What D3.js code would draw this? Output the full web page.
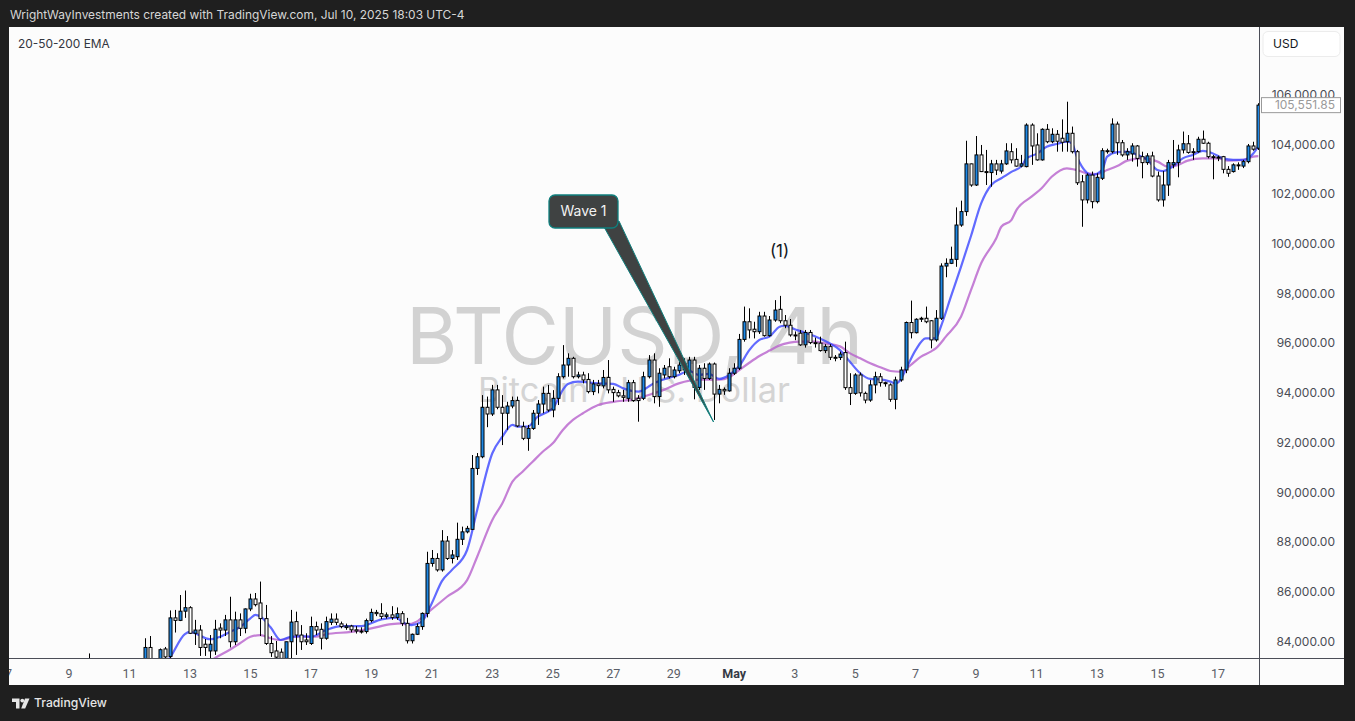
<!DOCTYPE html>
<html><head><meta charset="utf-8">
<script src="https://cdn.jsdelivr.net/npm/d3@7"></script>
<style>html,body{margin:0;padding:0;background:#1f1f1f;overflow:hidden}</style>
</head><body>
<svg id="c" width="1355" height="721"></svg>
<script>
// ---------------- DATA ----------------
const headerText = "WrightWayInvestments created with TradingView.com, Jul 10, 2025 18:03 UTC-4";
const indicatorLabel = "20-50-200 EMA";
const symbolName = "BTCUSD, 4h";
const symbolDesc = "Bitcoin / U.S. Dollar";
const currencyLabel = "USD";
const lastPrice = 105551.85;
const firstBarTime = "2025-04-09T16:00:00Z";
const barHours = 4;

const open = [82000,82700,82100,81600,81900,81500,80800,81200,82000,82500,82300,82900,83740,83200,83250,83680,83380,84930,84830,85200,
85340,84310,84440,83870,83600,83600,84520,84440,84850,83970,84850,84510,85290,85690,85530,84900,83900,83600,83550,83300,
83970,84780,84240,84040,83900,84580,84470,84110,84750,84880,84690,84540,84600,84450,84400,84380,84820,85150,85100,84990,
85050,84950,85100,84710,84010,84270,84580,85110,87120,87320,86860,88020,87320,87390,88090,88390,88490,90940,91410,93400,
93130,94100,93400,93160,93450,93670,92620,92150,92550,93160,93530,93960,93290,93760,94630,95100,95370,94630,94700,94520,
94030,94340,94260,94600,94120,93990,93860,93760,94390,93760,93760,94630,95300,93830,94700,95030,94630,94870,94900,94770,
95300,94200,94970,94560,95140,93930,94120,94060,94770,94970,96130,96840,96540,96440,97070,96280,96910,97340,96880,96700,
96310,96380,95910,96410,96000,95980,95680,95840,95410,95400,95600,94190,93960,94700,93960,93690,94300,94630,94390,94300,
93720,94500,94900,96810,96400,96940,96980,96880,96110,96980,99080,99190,99350,100730,101270,103190,102340,103550,102880,102840,
103190,102900,103190,103680,103370,103100,103080,104750,103950,103350,104580,104080,104380,104220,104080,104420,103680,102470,101740,102740,
101670,102610,103720,103680,104790,104040,103550,103590,103910,103480,103240,103510,102700,101740,102340,103150,103240,103750,104000,103650,
103680,104180,104020,103480,103460,103480,102970,102880,103150,103100,103280,103910,103820];
const high = [83500,83200,82600,82200,82500,81900,81400,82300,82800,83000,83100,84110,84200,83300,83700,83760,85230,85250,85850,86030,
85400,84850,84640,84080,84240,84850,84710,85050,85780,85180,85110,85310,85900,85930,86390,85450,84200,84000,83700,83970,
85250,85180,84640,84310,84980,84780,84710,84980,85110,85110,84780,84700,84650,84600,84550,84900,85300,85250,85520,85150,
85400,85350,85200,84930,84300,84710,85150,87590,87660,87530,88460,88220,87660,88760,88600,88630,91480,91560,93890,93830,
94300,94300,93890,93620,93830,93830,92820,92690,93290,93690,94230,94300,94090,94770,95900,95570,95430,94830,94830,94770,
94500,94500,94900,95300,94230,94100,94100,94500,94500,93890,94830,95500,95570,94970,95100,95370,95030,95300,95370,95430,
95430,95100,95170,95200,95200,94300,94200,94970,95170,96350,97450,97380,96840,97240,97240,97070,97710,97880,97110,96950,
96450,96510,96510,96510,96200,96240,95940,95940,95500,95640,96040,94770,94770,94800,94030,94500,94830,94770,94430,94360,
94630,95030,96850,97690,96980,97040,97450,96910,97310,99190,99390,99860,101440,101710,104120,103200,104310,103950,103750,103350,
103350,103350,104020,104020,103820,103550,104820,104820,104420,104620,104790,104620,104550,104980,105690,104690,103750,102740,102810,102880,
102810,103820,103800,105020,104890,104150,103820,104020,103950,103680,103620,103680,102880,102900,103350,104150,103960,104490,104350,103820,
104280,104530,104080,103550,103520,103510,103100,103210,103250,103350,103990,104080,105630];
const low = [81500,81800,81200,80900,81300,80400,79800,80900,81600,82000,82100,82700,82900,82900,83100,83300,83300,84340,84800,84930,
84280,83840,83400,83400,83300,83440,84110,84200,83740,83840,84200,84310,85200,85390,84200,83840,83360,83200,83100,83200,
83300,83440,83640,83840,83840,84240,83660,84050,84640,84640,84510,84450,84350,84300,84300,84300,84750,85000,84880,84900,
84850,84850,84600,83900,83900,84240,84450,84950,86990,86790,86790,87260,87120,87260,87860,88330,88460,90680,91350,92600,
93050,93320,91880,92490,93360,92600,92080,91650,92490,92690,93160,93220,93000,93490,94560,94630,94560,94560,94360,93960,
93890,93960,94160,93960,93620,93800,93620,93620,93620,92820,93690,94560,93560,93420,94560,94560,94560,94770,94700,94700,
93720,94100,94100,94500,92890,93560,93900,94030,94700,94900,96040,96170,96170,96350,96240,96240,96840,96780,96580,96240,
96100,95870,95800,95940,95800,95640,95580,95300,95250,95300,94100,93490,93900,93830,93560,93620,93960,94230,94230,93620,
93320,94430,94770,96170,96370,96830,96780,95770,96040,96910,98630,99160,99050,100660,101100,102270,102300,102860,102340,102270,
102740,102800,103150,103210,103080,103050,103050,103150,103320,103320,104020,104020,103680,103680,103680,103610,102340,100660,101600,101400,
101600,102540,103600,103610,103550,103480,103350,103280,103080,102610,103150,102650,101670,101470,101900,103010,102650,103610,103600,103350,
103640,103990,103410,102570,103300,102810,102670,102840,102950,103020,103210,103720,103750];
const close = [82700,82100,81600,81900,81500,80800,81200,82000,82500,82300,82900,83740,83200,83250,83650,83360,84930,84830,85200,85340,
84310,84440,83740,83740,83870,84470,84440,84850,83970,84850,84510,85290,85690,85460,84900,83900,83530,83350,83300,83970,
84760,84240,83970,83970,84580,84440,84110,84780,84880,84750,84580,84600,84450,84400,84380,84820,85150,85100,84990,85050,
84950,85100,84710,84010,84270,84580,85110,87120,87320,86860,88020,87320,87460,88090,88390,88530,90940,91410,93400,93130,
94100,93400,93160,93450,93670,92650,92150,92550,93160,93530,93960,93290,93760,94630,95100,95370,94630,94700,94500,94030,
94340,94270,94600,94100,93990,93860,93800,94390,93670,93670,94630,95300,93830,94770,94970,94630,94900,95100,95170,95300,
94200,94970,94560,95140,93930,94120,94060,94770,94970,96130,96840,96510,96440,97070,96280,96910,97310,96880,96700,96310,
96300,95910,96410,96000,95980,95680,95840,95410,95400,95540,94190,93960,94700,93980,93690,94300,94630,94390,94350,93720,
94500,94900,96810,96400,96940,96980,96840,96110,96980,99080,99190,99350,100730,101270,103190,102340,103550,102880,102860,103190,
102940,103190,103710,103350,103100,103190,104750,103910,103350,104580,104080,104380,104100,104060,104420,103680,102430,101740,102740,101670,
102650,103720,103700,104790,104040,103550,103680,103910,103410,103240,103510,102700,101740,102340,103240,103240,103750,104000,103650,103680,
104180,104020,103480,103460,103450,102970,102810,103150,103120,103280,103910,103780,105551.85];

const ema20Bar = [10,13,16,19,20,24,26,28,30,32,33,34,36,38,40,42,44,47,50,54,58,61,62,64,66,68,70,72,75,77,80,82,84,85,87,89,91,92,94,95,97,101,104,106,109,111,112,114,117,119,121,123,125,127,129,131,133,135,137,138,140,142,145,147,149,151,153,155,157,159,160,161,162,164,166,168,169,171,173,175,177,179,181,183,185,186,188,190,192,194,195,196,197,199,201,202,204,206,208,210,212,213,215,217,219,221,223,225,227,229,231,232];
const ema20 = [81900,82600,83320,84280,84370,84070,84170,84370,84570,84910,85050,84980,84550,84040,84170,84200,84170,84440,84600,84600,84870,84940,84780,84640,84780,85520,86410,86860,87660,89270,91550,92220,92690,92620,92620,93020,93220,93360,94100,94340,94430,94360,94340,94160,94030,94230,94360,94520,94700,94870,94700,94740,94540,94700,95060,95700,96110,96240,96640,96680,96540,96400,96170,95970,95700,95220,94770,94540,94520,94430,94360,94500,94900,95700,96170,96170,96640,97850,99050,100300,101600,102340,102610,102870,103100,103410,103590,103880,103990,104080,104020,103480,103080,102740,102940,103480,103660,103680,103550,103350,102940,102900,103080,103410,103550,103710,103610,103410,103350,103350,103610,103900];
const ema50Bar = [18,22,25,28,30,32,34,36,38,41,45,47,52,56,60,62,63,65,67,71,75,77,80,82,84,86,88,90,92,94,96,98,101,104,108,112,114,117,121,125,127,129,131,133,135,137,139,141,144,146,149,151,153,155,157,159,161,163,165,167,168,170,173,175,177,180,181,183,184,187,189,191,194,196,198,200,202,204,206,209,212,214,216,218,221,224,226,229,231,232];
const ema50 = [82500,82900,83320,83660,83920,84170,84240,84110,84040,84170,84170,84270,84370,84510,84680,84710,84670,84780,85110,85780,86450,87390,88870,89540,90410,90810,91210,91610,91950,92490,92890,93160,93490,93620,93720,93960,94100,94360,94510,94510,94610,94900,95190,95460,95680,95890,96000,96040,96040,95970,95850,95570,95370,95170,95010,94860,94830,95100,95430,95640,95770,96240,97040,98120,99190,100200,100660,100930,101330,101870,102210,102670,103010,102940,102810,102780,102940,103100,103320,103410,103280,103080,103140,103320,103410,103410,103320,103350,103480,103500];

const priceTicks = [84000,86000,88000,90000,92000,94000,96000,98000,100000,102000,104000,106000];
const dateTickStart = "2025-04-07T00:00:00Z";
const dateTickLabels = ["7","9","11","13","15","17","19","21","23","25","27","29","May","3","5","7","9","11","13","15","17"];

const calloutText = "Wave 1";
const calloutBar = 124;            // bar the pointer tip sits on
const calloutPrice = 92890;        // price at the pointer tip
const waveLabel = "(1)";
const waveLabelBar = 137;
const waveLabelPrice = 99640;

// ---------------- LAYOUT ----------------
const W = 1355, H = 721;
const pane = {x: 9, y: 27, r: 1344, b: 685};
const plot = {x: 9, y: 27, r: 1259, b: 658};
const svg = d3.select('#c');

svg.append('rect').attr('width', W).attr('height', H).attr('fill', '#1f1f1f');
svg.append('rect').attr('x', pane.x).attr('y', pane.y).attr('width', pane.r - pane.x).attr('height', pane.b - pane.y).attr('fill', '#fcfcfc');

const t0 = new Date(firstBarTime);
const barTime = i => new Date(t0.getTime() + i * barHours * 3600 * 1000);

const x = d3.scaleUtc()
  .domain([new Date("2025-04-07T00:00:00Z"), new Date("2025-05-17T00:00:00Z")])
  .range([8.5, 1218]);
const y = d3.scaleLinear().domain([84000, 106000]).range([641, 94]);

const defs = svg.append('defs');
defs.append('clipPath').attr('id', 'plotClip').append('rect')
  .attr('x', plot.x).attr('y', plot.y).attr('width', plot.r - plot.x).attr('height', plot.b - plot.y);
defs.append('clipPath').attr('id', 'timeClip').append('rect')
  .attr('x', plot.x).attr('y', plot.b).attr('width', plot.r - plot.x).attr('height', pane.b - plot.b);

function fitWidth(sel, w) {
  const n = sel.node(); const fs = +sel.attr('font-size');
  const l = n.getComputedTextLength();
  if (l > 0) sel.attr('font-size', fs * w / l);
}

// header
svg.append('text').attr('x', 10).attr('y', 16).attr('dominant-baseline', 'middle')
  .attr('font-family', 'Inter, "Noto Sans", sans-serif').attr('font-size', 13).attr('fill', '#d6d6d6')
  .text(headerText).call(fitWidth, 455);

const plotG = svg.append('g').attr('clip-path', 'url(#plotClip)');

// watermark
const cxMid = (plot.x + plot.r) / 2;
plotG.append('text').attr('x', cxMid + 0.5).attr('y', 364).attr('text-anchor', 'middle')
  .attr('font-family', 'Inter, "Noto Sans", sans-serif').attr('font-size', 82).attr('fill', '#d2d2d2')
  .text(symbolName).call(fitWidth, 457);
plotG.append('text').attr('x', cxMid).attr('y', 402).attr('text-anchor', 'middle')
  .attr('font-family', 'Inter, "Noto Sans", sans-serif').attr('font-size', 36).attr('fill', '#d4d4d4')
  .text(symbolDesc).call(fitWidth, 312);

// EMAs
const line = d3.line().curve(d3.curveMonotoneX);
plotG.append('path')
  .attr('d', line(ema50Bar.map((b, k) => [x(barTime(b)), y(ema50[k])])))
  .attr('fill', 'none').attr('stroke', '#b660cc').attr('stroke-opacity', 0.8).attr('stroke-width', 2.2);
plotG.append('path')
  .attr('d', line(ema20Bar.map((b, k) => [x(barTime(b)), y(ema20[k])])))
  .attr('fill', 'none').attr('stroke', '#3a45ff').attr('stroke-opacity', 0.8).attr('stroke-width', 2.2);

// candles
const bars = d3.range(open.length).map(i => ({i, t: barTime(i), o: open[i], h: high[i], l: low[i], c: close[i]}));
const cg = plotG.append('g');
cg.selectAll('line.w').data(bars).join('line')
  .attr('x1', d => Math.round(x(d.t)) + 0.5).attr('x2', d => Math.round(x(d.t)) + 0.5)
  .attr('y1', d => y(d.h)).attr('y2', d => y(d.l))
  .attr('stroke', '#000').attr('stroke-width', 1);
cg.selectAll('rect.b').data(bars).join('rect')
  .attr('x', d => Math.round(x(d.t)) - 1)
  .attr('width', 3)
  .attr('y', d => y(Math.max(d.o, d.c)))
  .attr('height', d => Math.max(1, Math.abs(y(d.o) - y(d.c))))
  .attr('fill', d => d.c >= d.o ? '#1e88e5' : '#ffffff')
  .attr('stroke', '#000').attr('stroke-width', 1);

// callout "Wave 1"
const tipX = x(barTime(calloutBar)) - 0.5, tipY = y(calloutPrice) + 2;
plotG.append('path')
  .attr('d', `M604,227 L619,221 L${tipX},${tipY} Z`)
  .attr('fill', '#3f4242').attr('stroke', '#0f7f7d').attr('stroke-width', 1).attr('stroke-linejoin', 'round');
plotG.append('rect').attr('x', 549).attr('y', 195).attr('width', 69).attr('height', 33).attr('rx', 6)
  .attr('fill', '#3f4242').attr('stroke', '#0f7f7d').attr('stroke-width', 1.3);
plotG.append('text').attr('x', 583.5).attr('y', 212).attr('text-anchor', 'middle').attr('dominant-baseline', 'middle')
  .attr('font-family', 'Inter, "Noto Sans", sans-serif').attr('font-size', 14).attr('fill', '#f2f2f2').text(calloutText);

plotG.append('text').attr('x', x(barTime(waveLabelBar))).attr('y', y(waveLabelPrice)).attr('text-anchor', 'middle')
  .attr('dominant-baseline', 'middle')
  .attr('font-family', 'Inter, "Noto Sans", sans-serif').attr('font-size', 17).attr('fill', '#131722').text(waveLabel);

// indicator label
svg.append('text').attr('x', 18).attr('y', 45).attr('dominant-baseline', 'middle')
  .attr('font-family', 'Inter, "Noto Sans", sans-serif').attr('font-size', 13).attr('fill', '#333640')
  .text(indicatorLabel).call(fitWidth, 92);

// separators
svg.append('line').attr('x1', plot.r + 0.5).attr('x2', plot.r + 0.5).attr('y1', pane.y).attr('y2', pane.b)
  .attr('stroke', '#4b4e57').attr('stroke-width', 1);
svg.append('line').attr('x1', pane.x).attr('x2', pane.r).attr('y1', plot.b + 0.5).attr('y2', plot.b + 0.5)
  .attr('stroke', '#4b4e57').attr('stroke-width', 1);

// price axis
const fmt = d3.format(',.2f');
const yAxisG = svg.append('g').attr('transform', `translate(1335,0)`);
yAxisG.selectAll('text').data(priceTicks).join('text')
  .attr('x', 0).attr('y', d => y(d) + 1.5).attr('text-anchor', 'end').attr('dominant-baseline', 'middle')
  .attr('font-family', 'Inter, "Noto Sans", sans-serif').attr('font-size', 12).attr('fill', '#4a4c55')
  .text(d => fmt(d));

// currency box
svg.append('rect').attr('x', 1263).attr('y', 31.5).attr('width', 77).attr('height', 25).attr('rx', 5)
  .attr('fill', '#ffffff').attr('stroke', '#ececec');
svg.append('text').attr('x', 1273).attr('y', 44.5).attr('dominant-baseline', 'middle')
  .attr('font-family', 'Inter, "Noto Sans", sans-serif').attr('font-size', 12).attr('fill', '#131722').text(currencyLabel);

// last price label
const lpY = y(lastPrice);
svg.append('rect').attr('x', 1261.5).attr('y', lpY - 7.5).attr('width', 79).attr('height', 15)
  .attr('fill', '#ffffff').attr('stroke', '#9a9a9a').attr('stroke-width', 1);
svg.append('text').attr('x', 1335).attr('y', lpY + 1).attr('text-anchor', 'end').attr('dominant-baseline', 'middle')
  .attr('font-family', 'Inter, "Noto Sans", sans-serif').attr('font-size', 12).attr('fill', '#9a9a9a').text(fmt(lastPrice));

// time axis
const tStart = new Date(dateTickStart);
const dateTicks = dateTickLabels.map((lab, k) => ({lab, t: d3.utcDay.offset(tStart, 2 * k)}));
const tg = svg.append('g').attr('clip-path', 'url(#timeClip)');
tg.selectAll('text').data(dateTicks).join('text')
  .attr('x', d => x(d.t)).attr('y', 674.5).attr('text-anchor', 'middle').attr('dominant-baseline', 'middle')
  .attr('font-family', 'Roboto, "Noto Sans", sans-serif').attr('font-size', 12.5)
  .attr('font-weight', d => d.lab === 'May' ? 700 : 400)
  .attr('fill', d => d.lab === 'May' ? '#363a45' : '#5a5d66')
  .text(d => d.lab);

// footer logo
const lg = svg.append('g').attr('fill', '#e6e6e6');
lg.append('path').attr('d', 'M12,698.5 H19.5 V708.5 H16 V702 H12 Z');
lg.append('circle').attr('cx', 22.3).attr('cy', 700.6).attr('r', 1.9);
lg.append('path').attr('d', 'M25,698.5 H29.5 L25.2,708.5 H21.2 Z');
svg.append('text').attr('x', 34).attr('y', 703.5).attr('dominant-baseline', 'middle')
  .attr('font-family', 'Inter, "Noto Sans", sans-serif').attr('font-size', 13).attr('font-weight', 500).attr('fill', '#e6e6e6')
  .text('TradingView').call(fitWidth, 73);
</script>
</body></html>
